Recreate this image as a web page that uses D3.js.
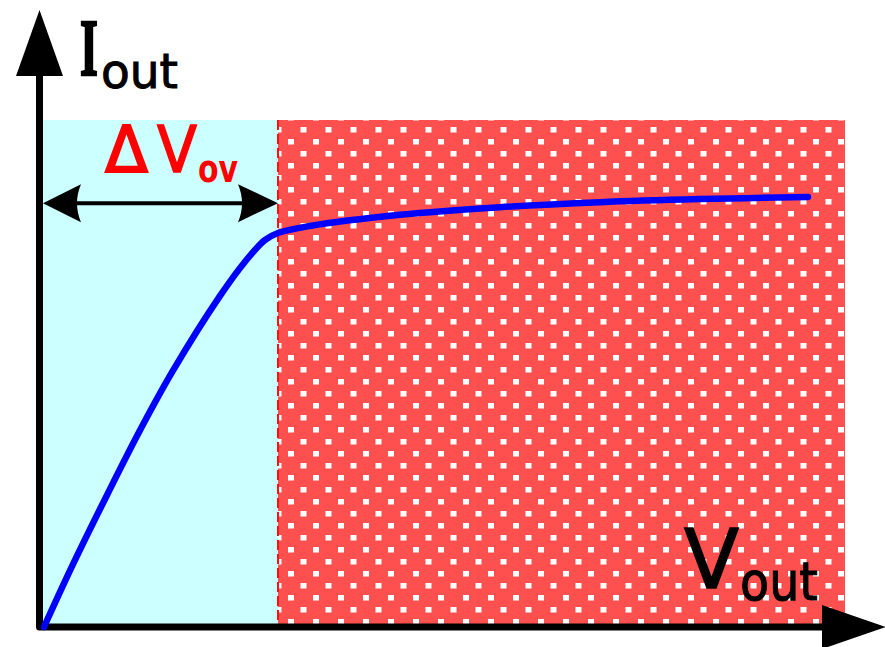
<!DOCTYPE html>
<html>
<head>
<meta charset="utf-8">
<script src="https://cdn.jsdelivr.net/npm/d3@7"></script>
<style>
  html, body { margin: 0; padding: 0; background: #ffffff; }
  svg { display: block; }
</style>
</head>
<body>
<div id="chart"></div>
<script>
// ---- data ----
const vout = [0, 3.6, 7.9, 12, 16.1, 22, 25.1, 27.6, 29.25, 33.25, 44.5, 57, 69.5, 82, 95.5];
const iout = [0, 12.3, 26.1, 38.8, 50.5, 65.3, 72, 76.3, 77.7, 79.1, 81.3, 82.8, 83.8, 84.4, 84.8];
const deltaVov = 29.25;          // end of the linear (triode) region
const arrowLevel = 83.6;         // height of the ΔVov double arrow
const xMaxRegion = 100;
const yMaxRegion = 100;
const yLabel = ["I", "out"];
const xLabel = ["V", "out"];
const regionLabel = ["Δ", "V", "ov"];

// ---- setup ----
const W = 885, H = 647;
const svg = d3.select("#chart").append("svg").attr("width", W).attr("height", H);

const x = d3.scaleLinear().domain([0, 100]).range([44, 844]);
const y = d3.scaleLinear().domain([0, 100]).range([627, 120]);

// pattern
const defs = svg.append("defs");
const pat = defs.append("pattern")
  .attr("id", "dots").attr("patternUnits", "userSpaceOnUse")
  .attr("x", 288).attr("y", 139).attr("width", 25).attr("height", 24);
pat.append("rect").attr("width", 25).attr("height", 24).attr("fill", "#ff5050");
pat.append("rect").attr("x", 0).attr("y", 0).attr("width", 6).attr("height", 5.5).attr("fill", "#ffffff");
pat.append("rect").attr("x", 12.5).attr("y", 12).attr("width", 6).attr("height", 5.5).attr("fill", "#ffffff");

// regions
svg.append("rect")
  .attr("x", x(0) - 1).attr("y", y(yMaxRegion))
  .attr("width", x(deltaVov) - x(0) + 1).attr("height", y(0) - y(yMaxRegion))
  .attr("fill", "#ccffff");
svg.append("rect")
  .attr("x", x(deltaVov)).attr("y", y(yMaxRegion))
  .attr("width", x(xMaxRegion) - x(deltaVov) + 1).attr("height", y(0) - y(yMaxRegion))
  .attr("fill", "url(#dots)");
svg.append("line")
  .attr("x1", x(deltaVov)).attr("x2", x(deltaVov))
  .attr("y1", y(yMaxRegion)).attr("y2", y(0))
  .attr("stroke", "#ff1010").attr("stroke-width", 2)
  .attr("stroke-dasharray", "10,4");

// axes
const ax = x(0) - 4.5, ay = y(0);
svg.append("path")
  .attr("d", `M${ax},76 L${ax},${ay} L822,${ay}`)
  .attr("fill", "none").attr("stroke", "#000").attr("stroke-width", 7)
  .attr("stroke-linejoin", "round");
svg.append("path")
  .attr("d", `M${ax},10 L${ax - 23.5},76 L${ax + 23.5},76 Z`)
  .attr("fill", "#000");
svg.append("path")
  .attr("d", `M886,${ay} L822,${ay - 22} L822,${ay + 22} Z`)
  .attr("fill", "#000");

// double arrow ΔVov
const ya = y(arrowLevel);
const xl = x(0) - 1, xr = x(deltaVov);
svg.append("line")
  .attr("x1", xl + 20).attr("x2", xr - 20).attr("y1", ya).attr("y2", ya)
  .attr("stroke", "#000").attr("stroke-width", 4);
svg.append("path")
  .attr("d", `M${xl},${ya} L${xl + 38},${ya - 19} Q${xl + 30},${ya} ${xl + 38},${ya + 19} Z`)
  .attr("fill", "#000");
svg.append("path")
  .attr("d", `M${xr},${ya} L${xr - 40},${ya - 19} Q${xr - 32},${ya} ${xr - 40},${ya + 19} Z`)
  .attr("fill", "#000");

// curve
const pts = vout.map((v, i) => [v, iout[i]]);
svg.append("path")
  .datum(pts)
  .attr("d", d3.line().x(d => x(d[0])).y(d => y(d[1])).curve(d3.curveCatmullRom.alpha(0.5)))
  .attr("fill", "none").attr("stroke", "#0000ff").attr("stroke-width", 6.5)
  .attr("stroke-linecap", "round");

// labels
svg.append("g").attr("transform", "translate(80,75) scale(1,1.75)")
  .append("text").attr("x", 0).attr("y", 0)
  .attr("font-family", "Liberation Serif").attr("font-weight", "bold")
  .attr("font-size", 46)
  .attr("stroke", "#000").attr("stroke-width", 1.4)
  .text(yLabel[0]);
svg.append("text").attr("x", 101).attr("y", 88)
  .attr("font-family", "DejaVu Sans").attr("font-size", 48)
  .attr("textLength", 77).attr("lengthAdjust", "spacingAndGlyphs")
  .attr("stroke", "#000").attr("stroke-width", 1)
  .text(yLabel[1]);

svg.append("text").attr("x", 684).attr("y", 588)
  .attr("font-family", "DejaVu Sans").attr("font-size", 82)
  .attr("textLength", 55).attr("lengthAdjust", "spacingAndGlyphs")
  .attr("stroke", "#000").attr("stroke-width", 1.5)
  .text(xLabel[0]);
svg.append("text").attr("x", 740).attr("y", 600)
  .attr("font-family", "DejaVu Sans").attr("font-size", 54)
  .attr("textLength", 78).attr("lengthAdjust", "spacingAndGlyphs")
  .attr("stroke", "#000").attr("stroke-width", 1)
  .text(xLabel[1]);

svg.append("text").attr("x", 105).attr("y", 172)
  .attr("font-family", "DejaVu Sans").attr("font-size", 64).attr("fill", "#ff0000")
  .attr("textLength", 43).attr("lengthAdjust", "spacingAndGlyphs")
  .attr("stroke", "#ff0000").attr("stroke-width", 2)
  .text(regionLabel[0]);
svg.append("text").attr("x", 157).attr("y", 172)
  .attr("font-family", "DejaVu Sans").attr("font-size", 64).attr("fill", "#ff0000")
  .attr("textLength", 40).attr("lengthAdjust", "spacingAndGlyphs")
  .attr("stroke", "#ff0000").attr("stroke-width", 1.5)
  .text(regionLabel[1]);
svg.append("text").attr("x", 198).attr("y", 182)
  .attr("font-family", "DejaVu Sans").attr("font-size", 37).attr("font-weight", "bold").attr("fill", "#ff0000")
  .attr("textLength", 40).attr("lengthAdjust", "spacingAndGlyphs")
  .text(regionLabel[2]);
</script>
</body>
</html>
